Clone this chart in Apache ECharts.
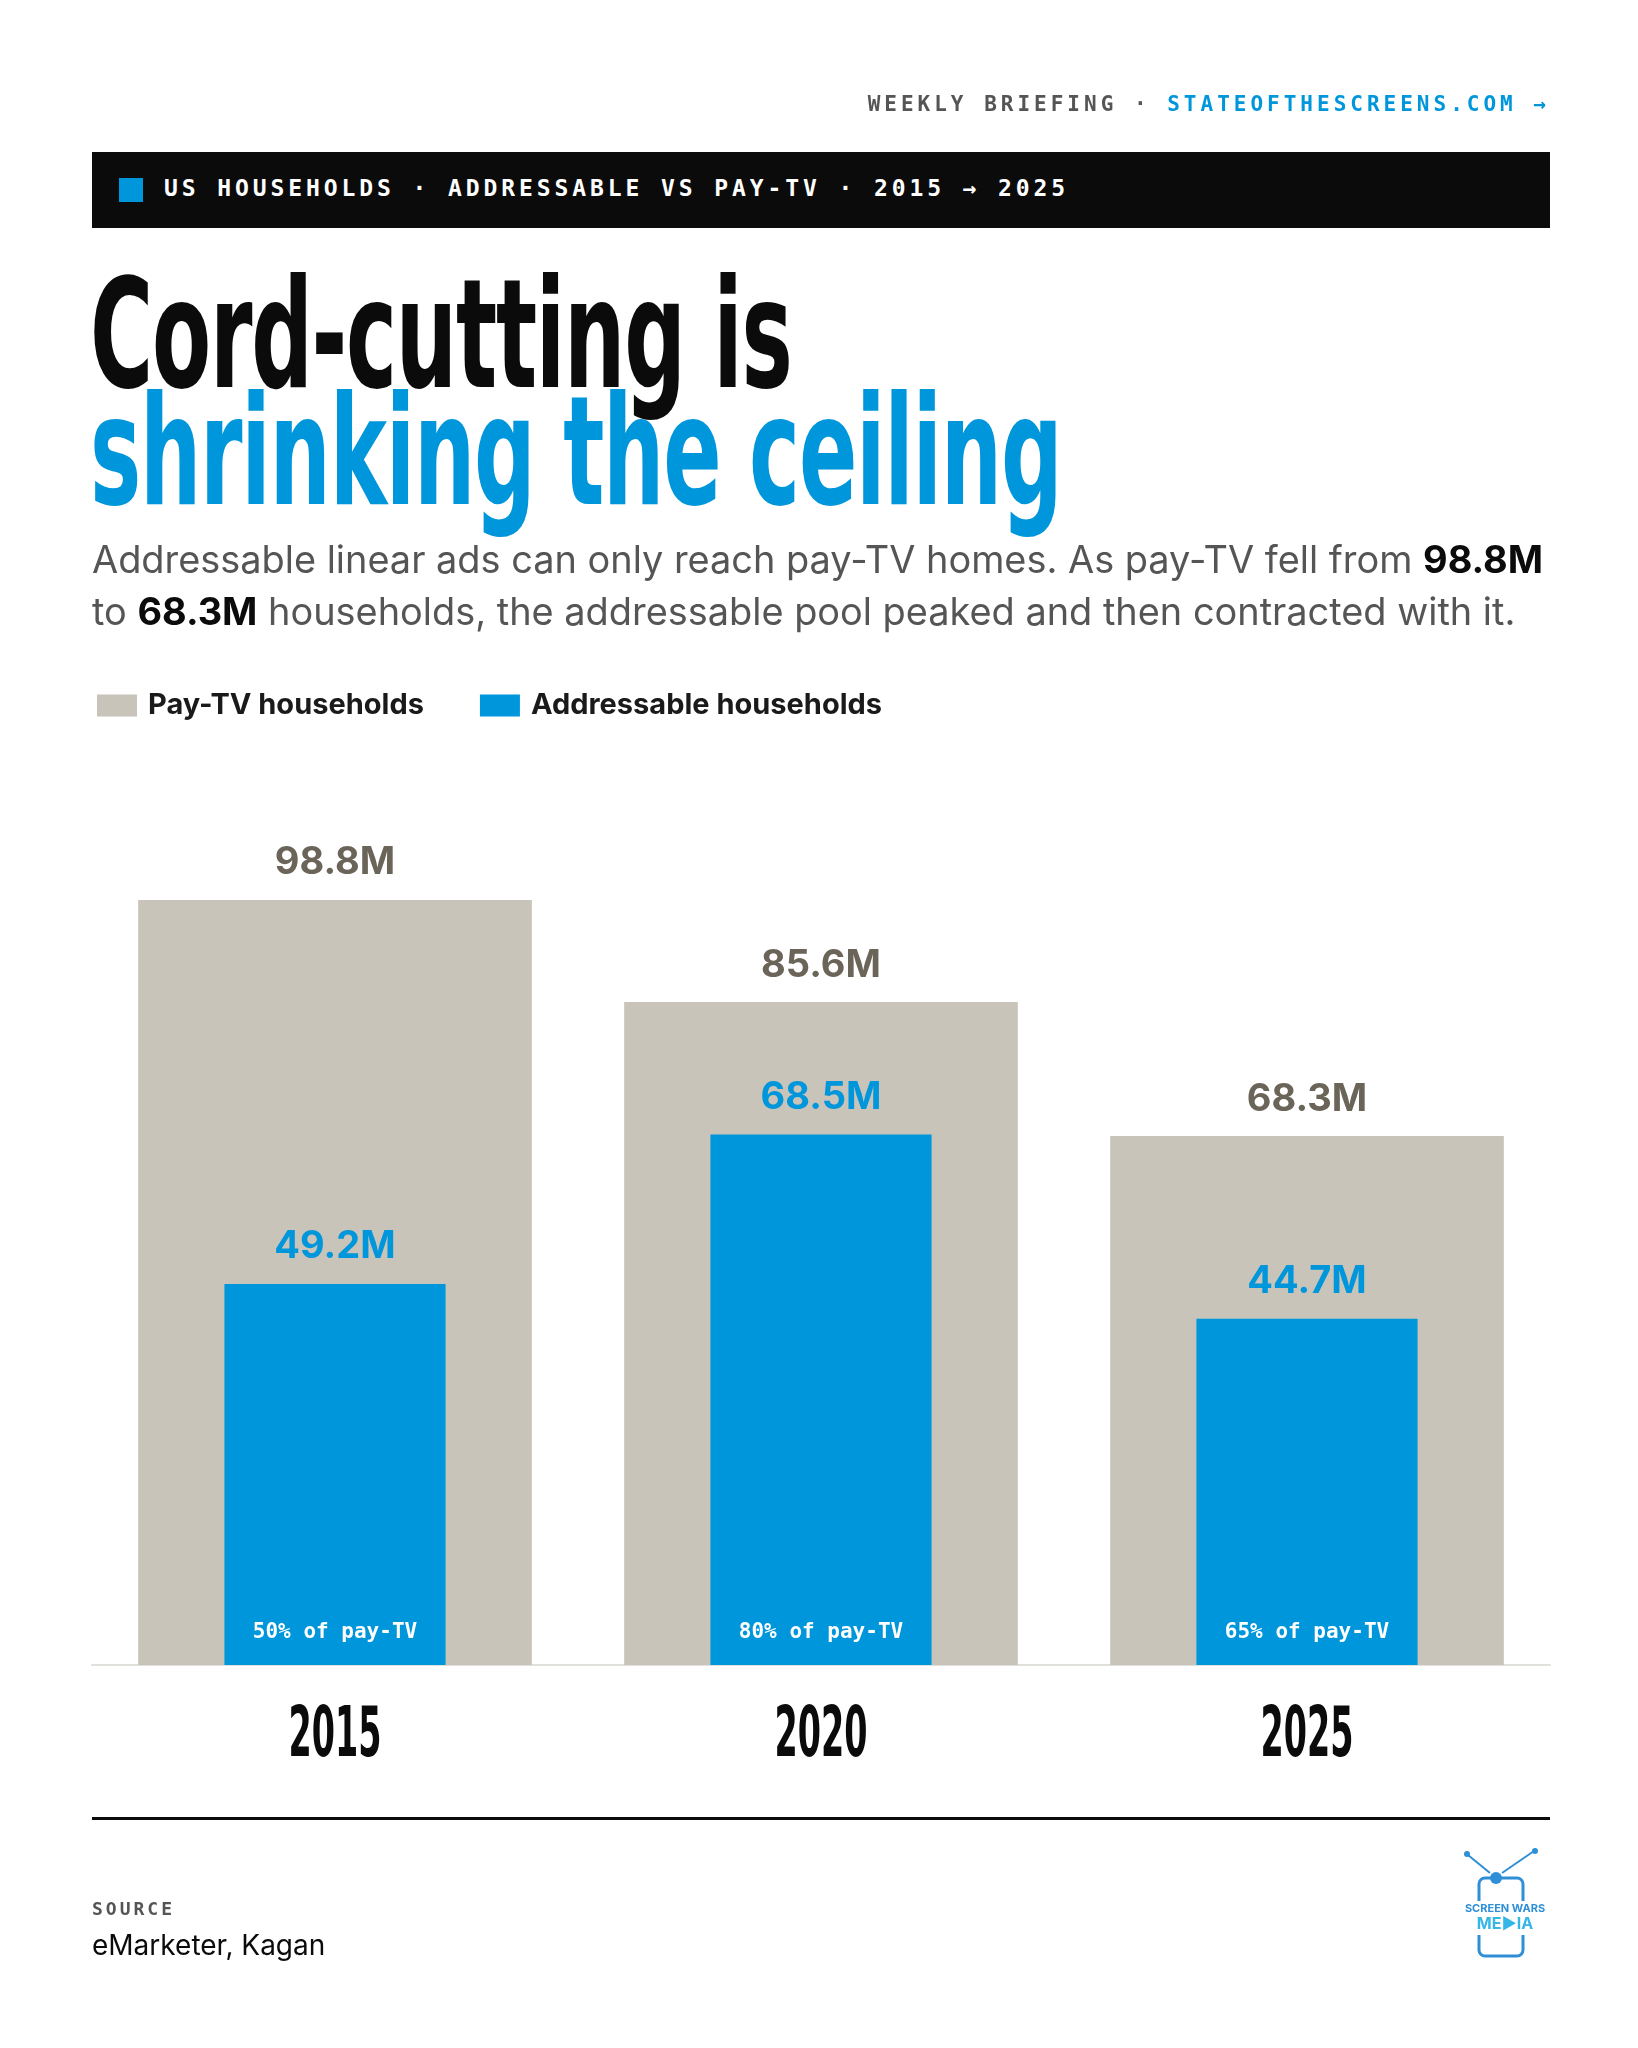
<!DOCTYPE html>
<html><head><meta charset="utf-8">
<script src="https://cdn.jsdelivr.net/npm/echarts@6/dist/echarts.min.js"></script>
<style>
body{margin:0;background:#fff;width:1638px;height:2048px;position:relative;overflow:hidden;font-family:Inter,"Noto Sans",sans-serif}
#chart{position:absolute;left:0;top:0;width:1638px;height:2048px}
.abs{position:absolute;white-space:nowrap}
.mono{font-family:"DejaVu Sans Mono",monospace;font-weight:bold}
.cond{font-family:"DejaVu Sans Condensed","DejaVu Sans",sans-serif;font-weight:bold;transform-origin:0 0;transform:scaleX(0.63);letter-spacing:-2px}
</style></head><body>
<div id="chart"></div>
<div class="abs mono" style="right:88px;top:92px;font-size:21px;letter-spacing:4px;color:#555">WEEKLY BRIEFING · <span style="color:#0096db">STATEOFTHESCREENS.COM →</span></div>
<div class="abs" style="left:92px;top:152px;width:1458px;height:76px;background:#0b0b0b"></div>
<div class="abs" style="left:119px;top:178px;width:24px;height:24px;background:#0096db"></div>
<div class="abs mono" style="left:164px;top:175px;font-size:23px;letter-spacing:3.9px;color:#fff">US HOUSEHOLDS · ADDRESSABLE VS PAY-TV · 2015 → 2025</div>
<div class="abs cond" style="left:90px;top:260px;font-size:152px;line-height:150px;color:#0b0b0b">Cord-cutting is</div>
<div class="abs cond" style="left:90px;top:377px;font-size:152px;line-height:150px;color:#0096db">shrinking the ceiling</div>
<div class="abs" style="left:92px;top:533px;font-size:37.9px;line-height:52px;color:#555;white-space:normal;width:1480px">Addressable linear ads can only reach pay-TV homes. As pay-TV fell from <b style="color:#0b0b0b">98.8M</b> to <b style="color:#0b0b0b">68.3M</b> households, the addressable pool peaked and then contracted with it.</div>
<div class="abs" style="left:92px;top:1817px;width:1458px;height:3px;background:#0b0b0b"></div>
<div class="abs mono" style="left:92px;top:1898px;font-size:18px;letter-spacing:3px;color:#555">SOURCE</div>
<div class="abs" style="left:92px;top:1928px;font-size:28px;color:#0b0b0b">eMarketer, Kagan</div>
<script>
const categories=['2015','2020','2025'];
const payTV=[98.8,85.6,68.3];
const addressable=[49.2,68.5,44.7];
const shareLabels=['50% of pay-TV','80% of pay-TV','65% of pay-TV'];
const seriesNames=['Pay-TV households','Addressable households'];
const chart=echarts.init(document.getElementById('chart'));
const BLUE='#0096db',GREY='#c9c4b9';
const logo={type:'group',left:1462,top:1848,children:[
   {type:'line',shape:{x1:28,y1:24,x2:6,y2:6},style:{stroke:'#2e8fd6',lineWidth:2}},
   {type:'line',shape:{x1:40,y1:24,x2:72,y2:2},style:{stroke:'#2e8fd6',lineWidth:2}},
   {type:'circle',shape:{cx:5,cy:5,r:3},style:{fill:'#2e8fd6'}},
   {type:'circle',shape:{cx:73,cy:2,r:3},style:{fill:'#2e8fd6'}},
   {type:'circle',shape:{cx:34,cy:29,r:6},style:{fill:'#2e8fd6'}},
   {type:'rect',shape:{x:17,y:29,width:44,height:78,r:6},style:{fill:'none',stroke:'#2e8fd6',lineWidth:3}},
   {type:'rect',shape:{x:0,y:52,width:86,height:34},style:{fill:'#fff'}},
   {type:'text',style:{x:43,y:54,text:'SCREEN WARS',align:'center',fontSize:11,fontWeight:'bold',fill:'#2e8fd6',fontFamily:'Inter'}},
   {type:'text',style:{x:43,y:67,text:'ME\u25B6IA',align:'center',fontSize:16,fontWeight:'bold',fill:'#35b6e6',fontFamily:'Inter'}}
  ]};
chart.setOption({
 animation:false,
 legend:{left:92,top:686,itemWidth:40,itemHeight:22,itemGap:56,icon:'rect',
  textStyle:{fontSize:29,fontWeight:'bold',color:'#1a1a1a',fontFamily:'Inter',padding:[0,0,0,6]},
  data:seriesNames},
 grid:{left:92,right:88,top:697,bottom:383},
 xAxis:[
  {type:'category',data:categories,axisTick:{show:false},
   axisLine:{lineStyle:{color:'#e2e0dc',width:2}},axisLabel:{show:false}},
  {type:'category',data:categories,show:false}
 ],
 yAxis:{type:'value',min:0,max:125,show:false,splitLine:{show:false}},
 series:[
  {name:seriesNames[0],type:'bar',xAxisIndex:0,data:payTV,barWidth:'81%',itemStyle:{color:GREY},
   label:{show:true,position:'top',distance:18,formatter:p=>p.value+'M',fontSize:38,fontWeight:'bold',color:'#6b6459',fontFamily:'Inter'}},
  {name:seriesNames[1],type:'bar',xAxisIndex:1,data:addressable,barWidth:'45.5%',itemStyle:{color:BLUE},z:3,
   label:{show:true,position:'top',distance:18,formatter:p=>p.value+'M',fontSize:38,fontWeight:'bold',color:BLUE,fontFamily:'Inter'}},
  {name:'share',type:'bar',xAxisIndex:1,data:addressable.map((v,i)=>({value:v,share:shareLabels[i]})),barWidth:'45.5%',barGap:'-100%',itemStyle:{color:'transparent'},z:4,silent:true,
   label:{show:true,position:'insideBottom',distance:22,formatter:p=>p.data.share,fontSize:21,fontWeight:'bold',color:'#fff',fontFamily:'DejaVu Sans Mono'}}
 ],
 graphic:[logo]
});
const yearLabels=categories.map((c,i)=>{
 const p=chart.convertToPixel({xAxisIndex:0,yAxisIndex:0},[i,0]);
 return {type:'text',x:p[0],y:1738,scaleX:0.53,
  style:{text:c,align:'center',verticalAlign:'middle',fontSize:70,fontWeight:'bold',fill:'#0b0b0b',fontFamily:'DejaVu Sans Condensed'}};
});
chart.setOption({graphic:[logo].concat(yearLabels)},{replaceMerge:['graphic']});
</script>
</body></html>
